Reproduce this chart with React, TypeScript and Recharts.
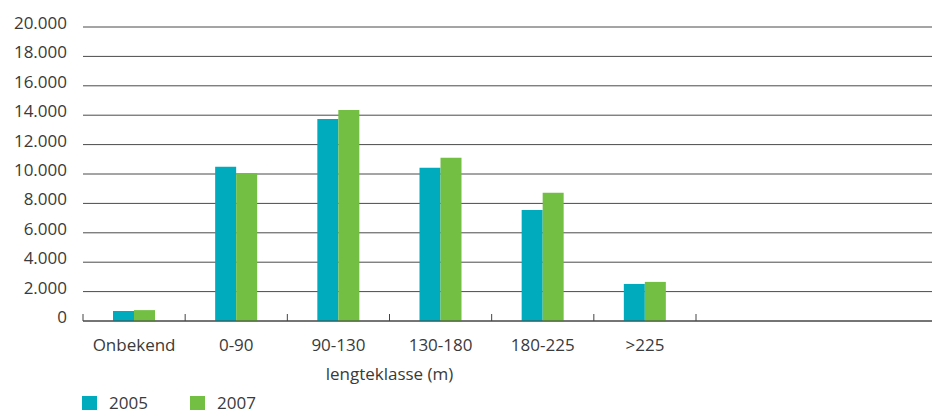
import { BarChart, Bar, XAxis, YAxis, CartesianGrid, Legend, Label } from "recharts";

const CATEGORIES = ["Onbekend", "0-90", "90-130", "130-180", "180-225", ">225"];
const VALUES_2005 = [680, 10500, 13750, 10420, 7550, 2520];
const VALUES_2007 = [740, 10070, 14350, 11100, 8720, 2660];
const Y_TICKS = [0, 2000, 4000, 6000, 8000, 10000, 12000, 14000, 16000, 18000, 20000];

const COLORS = { y2005: "#00abbd", y2007: "#72bf44" };
const TEXT = "#3a3a3a";
const FONT = "'Open Sans', sans-serif";
const PAD_RIGHT = 236;

const data = CATEGORIES.map((cat, i) => ({
  cat,
  y2005: VALUES_2005[i],
  y2007: VALUES_2007[i],
}));

const fmt = (v: number) => String(v).replace(/\B(?=(\d{3})+(?!\d))/g, ".");

function XTick(props: any) {
  const { x, y, payload, index } = props;
  const off = payload.offset ?? 0;
  return (
    <g>
      <line x1={x - off} x2={x - off} y1={y - 7} y2={y} stroke="#444" strokeWidth={1} />
      {index === CATEGORIES.length - 1 && (
        <line x1={x + off} x2={x + off} y1={y - 7} y2={y} stroke="#444" strokeWidth={1} />
      )}
      <text x={x} y={y + 30} textAnchor="middle" fill={TEXT} fontSize={17} fontFamily={FONT}>
        {payload.value}
      </text>
    </g>
  );
}

function YTick(props: any) {
  const { x, y, payload } = props;
  return (
    <text x={x} y={y + 2} textAnchor="end" fill={TEXT} fontSize={17} fontFamily={FONT}>
      {fmt(payload.value)}
    </text>
  );
}

function AxisTitle(props: any) {
  const vb = props.viewBox;
  const cx = vb.x + (vb.width - PAD_RIGHT) / 2;
  return (
    <text x={cx} y={vb.y + 59} textAnchor="middle" fill={TEXT} fontSize={17} fontFamily={FONT}>
      lengteklasse (m)
    </text>
  );
}

function LegendContent() {
  const items = [
    { label: "2005", color: COLORS.y2005 },
    { label: "2007", color: COLORS.y2007 },
  ];
  return (
    <div style={{ height: 24, display: "flex", paddingLeft: 82, paddingTop: 8, boxSizing: "border-box" }}>
      {items.map((it) => (
        <div key={it.label} style={{ display: "flex", alignItems: "center", width: 108, height: 14 }}>
          <span style={{ width: 15, height: 14, background: it.color, display: "inline-block" }} />
          <span style={{ marginLeft: 12, fontSize: 17, color: TEXT, fontFamily: FONT, lineHeight: "14px" }}>
            {it.label}
          </span>
        </div>
      ))}
    </div>
  );
}

export default function App() {
  return (
    <div style={{ position: "absolute", left: 0, top: 0, background: "#fff" }}>
      <BarChart
        width={932}
        height={412}
        data={data}
        margin={{ top: 27, right: 0, left: 0, bottom: 0 }}
        barGap={0}
      >
        <CartesianGrid vertical={false} stroke="#4a4a4a" strokeWidth={1} />
        <XAxis
          dataKey="cat"
          axisLine={{ stroke: "#444" }}
          tickLine={false}
          tickSize={0}
          tickMargin={0}
          tick={<XTick />}
          height={67}
          padding={{ left: 0, right: PAD_RIGHT }}
          interval={0}
        >
          <Label content={<AxisTitle />} />
        </XAxis>
        <YAxis
          domain={[0, 20000]}
          ticks={Y_TICKS}
          width={83}
          axisLine={false}
          tickLine={false}
          tickSize={0}
          tickMargin={16}
          tick={<YTick />}
          interval={0}
        />
        <Legend verticalAlign="bottom" align="left" content={<LegendContent />} wrapperStyle={{ left: 0 }} />
        <Bar dataKey="y2005" fill={COLORS.y2005} barSize={21} isAnimationActive={false} />
        <Bar dataKey="y2007" fill={COLORS.y2007} barSize={21} isAnimationActive={false} />
      </BarChart>
    </div>
  );
}
